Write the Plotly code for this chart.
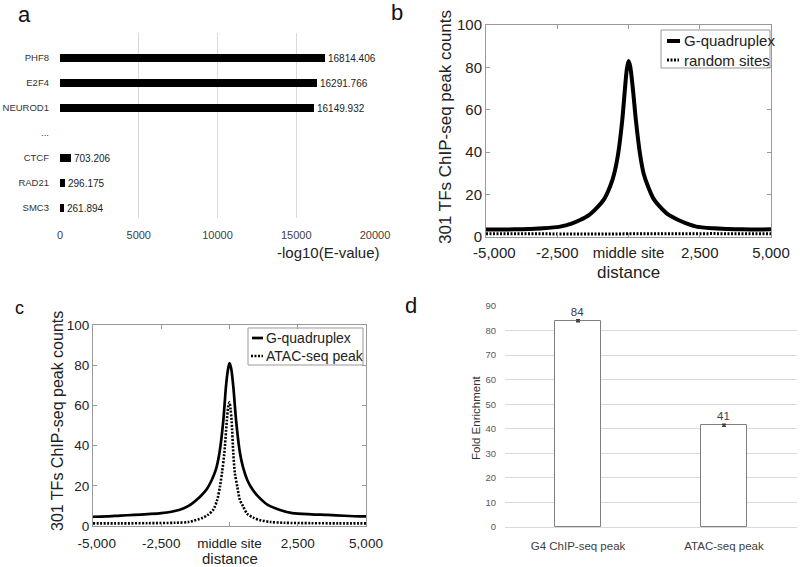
import plotly.graph_objects as go

# ---------------- data ----------------
# panel a
tf_names = ["PHF8", "E2F4", "NEUROD1", "...", "CTCF", "RAD21", "SMC3"]
tf_evalues = [16814.406, 16291.766, 16149.932, None, 703.206, 296.175, 261.894]
tf_labels = ["16814.406", "16291.766", "16149.932", "", "703.206", "296.175", "261.894"]
a_ticks = [0, 5000, 10000, 15000, 20000]

# panel b
b_g4_dist = [-5000, -4500, -4000, -3500, -3000, -2400, -2000, -1700, -1400, -1070, -850, -650, -500, -360, -220,
             -130, -60, 0, 60, 160, 260, 400, 530, 690, 880, 1100, 1400, 1750, 2000, 2380, 3000, 3500, 4000, 4500, 5000]
b_g4 = [3.5, 3.5, 3.6, 3.8, 4.1, 4.9, 6.3, 8.0, 10.2, 14.3, 18.0, 23.7, 30.0, 39.5, 55.0,
        69.0, 79.0, 83.0, 80.5, 69.0, 55.0, 39.5, 30.0, 23.7, 18.0, 14.3, 10.5, 8.0, 6.6, 4.9, 4.1, 3.8, 3.6, 3.5, 3.6]
b_rand_dist = [-5000, -4000, -3000, -2000, -1000, 0, 1000, 2000, 3000, 4000, 5000]
b_rand = [1.5, 1.6, 1.5, 1.4, 1.5, 1.5, 1.4, 1.5, 1.6, 1.5, 1.5]

# panel c
c_g4_dist = [-5000, -4500, -4000, -3500, -3000, -2500, -1850, -1500, -1080, -850, -650, -500, -370, -225, -130,
             -60, 0, 60, 140, 240, 385, 500, 650, 850, 1055, 1400, 1850, 2300, 3000, 3600, 4200, 4800, 5000]
c_g4 = [4.6, 4.8, 5.2, 5.5, 5.9, 6.4, 8.0, 10.0, 14.6, 18.0, 22.9, 28.0, 36.2, 52.7, 69.3,
        77.5, 81.0, 78.5, 69.3, 52.7, 36.2, 29.0, 22.9, 18.0, 14.6, 10.5, 8.0, 6.4, 5.8, 5.5, 5.1, 4.8, 4.8]
c_atac_dist = [-5000, -4000, -3000, -2000, -1500, -1000, -800, -600, -450, -350, -270, -190, -100, -40, 0,
               40, 80, 140, 200, 285, 380, 505, 650, 870, 1100, 1500, 2000, 3000, 4000, 5000]
c_atac = [1.3, 1.3, 1.4, 1.6, 2.0, 4.0, 5.5, 8.0, 13.0, 19.6, 27.0, 36.0, 52.0, 60.0, 61.5,
          58.0, 52.0, 36.0, 26.0, 19.6, 13.0, 9.6, 6.0, 4.2, 3.0, 2.0, 1.6, 1.4, 1.3, 1.3]

dist_ticks = [-5000, -2500, 0, 2500, 5000]
dist_ticktext = ["-5,000", "-2,500", "middle site", "2,500", "5,000"]

# panel d
d_cats = ["G4 ChIP-seq peak", "ATAC-seq peak"]
d_values = [84.0, 41.4]
d_err = [0.4, 0.4]
d_labels = ["84", "41"]

# ---------------- helpers ----------------
W, H = 800, 567
def fx(p):
    return p / W
def fy(p):
    return 1 - p / H

FONT = "Liberation Sans, Arial, sans-serif"
NB = "\u00a0"

fig = go.Figure()

# panel a bars
fig.add_trace(go.Bar(x=tf_evalues, y=tf_names, orientation="h", marker=dict(color="black", line=dict(width=0)),
                     width=0.32, text=tf_labels, textposition="outside", cliponaxis=False, constraintext="none",
                     textfont=dict(size=10, color="#222", family=FONT), xaxis="x", yaxis="y", showlegend=False))

# panel b lines
fig.add_trace(go.Scatter(x=b_g4_dist, y=b_g4, mode="lines", line=dict(color="black", width=4, shape="spline", smoothing=0.8),
                         xaxis="x2", yaxis="y2", showlegend=False))
fig.add_trace(go.Scatter(x=b_rand_dist, y=b_rand, mode="lines", line=dict(color="black", width=3, dash="2px,1.5px"),
                         xaxis="x2", yaxis="y2", showlegend=False))

# panel c lines
fig.add_trace(go.Scatter(x=c_g4_dist, y=c_g4, mode="lines", line=dict(color="black", width=2.7, shape="spline", smoothing=0.8),
                         xaxis="x3", yaxis="y3", showlegend=False))
fig.add_trace(go.Scatter(x=c_atac_dist, y=c_atac, mode="lines", line=dict(color="black", width=2.6, dash="2px,1.5px", shape="spline", smoothing=0.8),
                         xaxis="x3", yaxis="y3", showlegend=False))

# panel d bars
fig.add_trace(go.Bar(x=d_cats, y=d_values, marker=dict(color="white", line=dict(color="#7f7f7f", width=1)), width=0.315,
                     error_y=dict(type="data", array=d_err, color="#404040", thickness=1.5, width=2),
                     text=d_labels, textposition="outside", cliponaxis=False, constraintext="none",
                     textfont=dict(size=11.5, color="#404040", family=FONT), xaxis="x4", yaxis="y4", showlegend=False))

matlab_axis = dict(showline=True, linecolor="#999", linewidth=1, mirror="ticks", ticks="inside", ticklen=4,
                   tickcolor="#999", showgrid=False, zeroline=False, automargin=False)

b_ticktext = [NB * 4 + dist_ticktext[0]] + dist_ticktext[1:]
c_ticktext = [NB * 2 + dist_ticktext[0]] + dist_ticktext[1:]

fig.update_layout(
    width=W, height=H, margin=dict(l=0, r=0, t=0, b=0, pad=0, autoexpand=False),
    paper_bgcolor="white", plot_bgcolor="rgba(0,0,0,0)",
    font=dict(family=FONT, color="#222"), bargap=0, showlegend=False,
    xaxis=dict(domain=[fx(60), fx(375)], anchor="y", range=[0, 20000], tickvals=a_ticks, tickformat="d",
               showgrid=True, gridcolor="#d9d9d9", gridwidth=1, zeroline=False, showline=False, ticks="",
               tickfont=dict(size=11, color="#404040"), ticklabelstandoff=9, automargin=False),
    yaxis=dict(domain=[fy(218), fy(33)], anchor="x", type="category", categoryarray=tf_names,
               range=[6.4, -1.0], showgrid=False, zeroline=False, showline=False, ticks="",
               tickfont=dict(size=9.5, color="#333"), ticklabelstandoff=10, automargin=False),
    xaxis2=dict(domain=[fx(486), fx(771)], anchor="y2", range=[-5000, 5000], tickvals=dist_ticks,
                ticktext=b_ticktext, tickfont=dict(size=15, color="#222"), ticklabelstandoff=2, **matlab_axis),
    yaxis2=dict(domain=[fy(237), fy(25)], anchor="x2", range=[0, 100], dtick=20,
                tickfont=dict(size=15, color="#222"), **matlab_axis),
    xaxis3=dict(domain=[fx(93), fx(366)], anchor="y3", range=[-5000, 5000], tickvals=dist_ticks,
                ticktext=c_ticktext, tickfont=dict(size=13.5, color="#222"), ticklabelstandoff=5, **matlab_axis),
    yaxis3=dict(domain=[fy(526), fy(325)], anchor="x3", range=[0, 100], dtick=20,
                tickfont=dict(size=13.5, color="#222"), **matlab_axis),
    xaxis4=dict(domain=[fx(505), fx(797)], anchor="y4", type="category", showline=True, linecolor="#d9d9d9",
                ticks="", showgrid=False, tickfont=dict(size=11.5, color="#404040"), ticklabelstandoff=8,
                automargin=False),
    yaxis4=dict(domain=[fy(527), fy(306)], anchor="x4", range=[0, 90], dtick=10, showgrid=True,
                gridcolor="#d9d9d9", zeroline=False, showline=False, ticks="",
                tickfont=dict(size=9.5, color="#595959"), ticklabelstandoff=8, automargin=False),
)

ann = []
def add_text(text, x, y, size, angle=0, xanchor="center", color="#222"):
    ann.append(dict(text=text, x=fx(x), y=fy(y), xref="paper", yref="paper", showarrow=False,
                    xanchor=xanchor, yanchor="middle", textangle=angle,
                    font=dict(size=size, color=color, family=FONT)))

# panel letters
add_text("a", 24, 14, 22, color="#111")
add_text("b", 397, 13, 22, color="#111")
add_text("c", 19, 308, 18, color="#111")
add_text("d", 411, 305, 22, color="#111")

# axis titles
add_text("-log10(E-value)", 328, 252, 15)
add_text("301 TFs ChIP-seq peak counts", 445, 127, 17, angle=-90)
add_text("distance", 628.5, 273, 17)
add_text("301 TFs ChIP-seq peak counts", 57, 421, 16, angle=-90)
add_text("distance", 229.5, 558, 15)
add_text("Fold Enrichment", 476, 418, 11.5, angle=-90, color="#333")

# legend texts
add_text("G-quadruplex", 682, 41, 15, xanchor="left")
add_text("random sites", 682, 60, 15, xanchor="left")
add_text("G-quadruplex", 264, 338, 14, xanchor="left")
add_text("ATAC-seq peak", 264, 356, 14, xanchor="left")

shapes = [
    dict(type="rect", xref="paper", yref="paper", x0=fx(661), x1=fx(770), y0=fy(68), y1=fy(30),
         line=dict(color="#999", width=1), fillcolor="white", layer="below"),
    dict(type="line", xref="paper", yref="paper", x0=fx(667), x1=fx(680), y0=fy(41), y1=fy(41),
         line=dict(color="black", width=4)),
    dict(type="line", xref="paper", yref="paper", x0=fx(667), x1=fx(679), y0=fy(60), y1=fy(60),
         line=dict(color="black", width=3, dash="2px,1.5px")),
    dict(type="rect", xref="paper", yref="paper", x0=fx(248), x1=fx(363), y0=fy(365), y1=fy(328),
         line=dict(color="#999", width=1), fillcolor="white", layer="below"),
    dict(type="line", xref="paper", yref="paper", x0=fx(252), x1=fx(263), y0=fy(338), y1=fy(338),
         line=dict(color="black", width=2.7)),
    dict(type="line", xref="paper", yref="paper", x0=fx(251), x1=fx(263), y0=fy(356), y1=fy(356),
         line=dict(color="black", width=2.6, dash="2px,1.5px")),
]

fig.update_layout(annotations=ann, shapes=shapes)
fig.write_html("out.html", config={"displayModeBar": False},
               post_script="document.body.style.margin='0px';document.body.style.overflow='hidden';")
